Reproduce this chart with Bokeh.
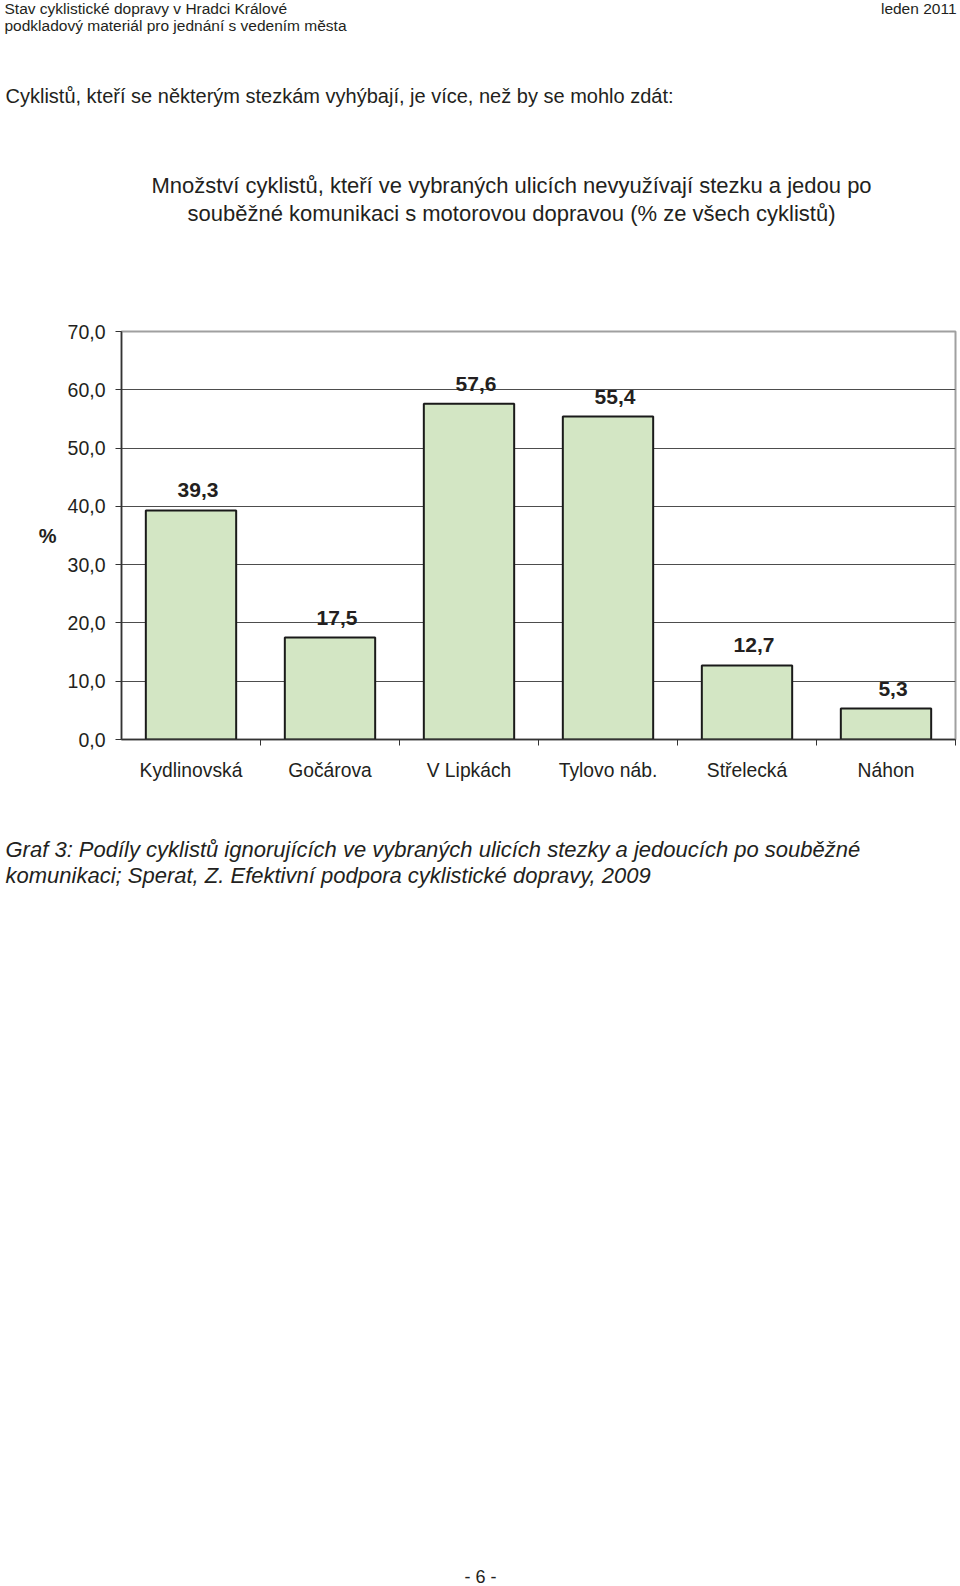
from bokeh.plotting import figure
from bokeh.layouts import column
from bokeh.models import Range1d, FixedTicker, ColumnDataSource
from bokeh.core.properties import value
from bokeh.embed import file_html
from bokeh.resources import INLINE

# ---------------- data ----------------
categories = ["Kydlinovská", "Gočárova", "V Lipkách", "Tylovo náb.", "Střelecká", "Náhon"]
values = [39.3, 17.5, 57.6, 55.4, 12.7, 5.3]
y_ticks = [0, 10, 20, 30, 40, 50, 60, 70]
y_tick_labels = ["0,0", "10,0", "20,0", "30,0", "40,0", "50,0", "60,0", "70,0"]

header_left = ["Stav cyklistické dopravy v Hradci Králové",
               "podkladový materiál pro jednání s vedením města"]
header_right = "leden 2011"
intro = "Cyklistů, kteří se některým stezkám vyhýbají,  je více, než by se mohlo zdát:"
chart_title = ["Množství cyklistů, kteří ve vybraných ulicích nevyužívají stezku a jedou po",
               "souběžné komunikaci s motorovou dopravou (% ze všech cyklistů)"]
caption = ["Graf 3:  Podíly cyklistů ignorujících ve vybraných ulicích stezky a jedoucích po souběžné",
           "komunikaci; Sperat, Z. Efektivní podpora cyklistické dopravy, 2009"]
page_no = "- 6 -"

FONT = "Liberation Sans"
TXT = "#231f20"
W = 960


def text_fig(h):
    f = figure(width=W, height=h, x_range=Range1d(0, W), y_range=Range1d(h, 0),
               x_axis_type=None, y_axis_type=None, toolbar_location=None,
               output_backend="svg", min_border=0, outline_line_color=None,
               frame_width=W, frame_height=h, frame_align=False)
    return f


def put(f, xs, ys, texts, size, align="left", style="normal"):
    f.text(x=xs, y=ys, text=texts, text_font=value(FONT), text_font_size=size,
           text_font_style=style, text_color=TXT, text_align=align, text_baseline="middle")


# ---------------- top text ----------------
top = text_fig(300)
put(top, [4, 4], [7.5, 24.5], header_left, "15.5px")
put(top, [956], [7.5], [header_right], "15.5px", align="right")
put(top, [5], [95], [intro], "20px")
put(top, [511, 511], [185, 212.5], chart_title, "22px", align="center")

# ---------------- chart ----------------
x = list(range(len(categories)))
src = ColumnDataSource(dict(x=x, top=values,
                            label=[f"{v:.1f}".replace(".", ",") for v in values]))

p = figure(width=W, height=500, x_range=Range1d(-0.5, len(categories) - 0.5),
           y_range=Range1d(y_ticks[0], y_ticks[-1]), toolbar_location=None,
           output_backend="svg", min_border_left=121, min_border_right=5,
           min_border_top=31, min_border_bottom=61, frame_align=False)

p.vbar(x="x", top="top", width=0.65, source=src, fill_color="#d3e6c4",
       line_color="#1a1a1a", line_width=2)
p.text(x="x", y="top", text="label", source=src, text_font=value(FONT),
       text_font_style="bold", text_font_size="21px", text_align="center",
       text_baseline="bottom", y_offset=-13, x_offset=7, text_color=TXT)

ya = p.yaxis[0]
ya.ticker = FixedTicker(ticks=y_ticks)
ya.major_label_overrides = dict(zip(y_ticks, y_tick_labels))
ya.major_tick_out = 6
ya.major_tick_in = 0
ya.minor_tick_line_color = None
ya.axis_line_color = "#333333"
ya.axis_line_width = 1.5
ya.major_tick_line_color = "#333333"
ya.major_label_text_font = FONT
ya.major_label_text_font_size = "19.5px"
ya.major_label_text_color = TXT
ya.major_label_standoff = 10
ya.axis_label = "%"
ya.axis_label_text_font = FONT
ya.axis_label_text_font_style = "bold"
ya.axis_label_text_font_size = "20px"
ya.axis_label_text_color = TXT
ya.axis_label_orientation = "horizontal"
ya.axis_label_standoff = 8

xa = p.xaxis[0]
xa.ticker = FixedTicker(ticks=x, minor_ticks=[i + 0.5 for i in x])
xa.major_label_overrides = dict(zip(x, categories))
xa.major_tick_out = 0
xa.major_tick_in = 0
xa.minor_tick_out = 6
xa.minor_tick_in = 0
xa.minor_tick_line_color = "#333333"
xa.axis_line_color = "#333333"
xa.axis_line_width = 1.5
xa.major_label_text_font = FONT
xa.major_label_text_font_size = "19.3px"
xa.major_label_text_color = TXT
xa.major_label_standoff = 14

p.xgrid.visible = False
p.ygrid.ticker = FixedTicker(ticks=y_ticks[1:-1])
p.ygrid.grid_line_color = "#4d4d4d"
p.ygrid.grid_line_width = 1
p.outline_line_color = "#a0a0a0"
p.outline_line_width = 2

# ---------------- bottom text ----------------
bot = text_fig(786)
put(bot, [5, 5], [49, 75], caption, "22px", style="italic")
put(bot, [480], [776], [page_no], "18px", align="center")

layout = column(top, p, bot, spacing=0)
open("out.html", "w").write(file_html(layout, INLINE))
